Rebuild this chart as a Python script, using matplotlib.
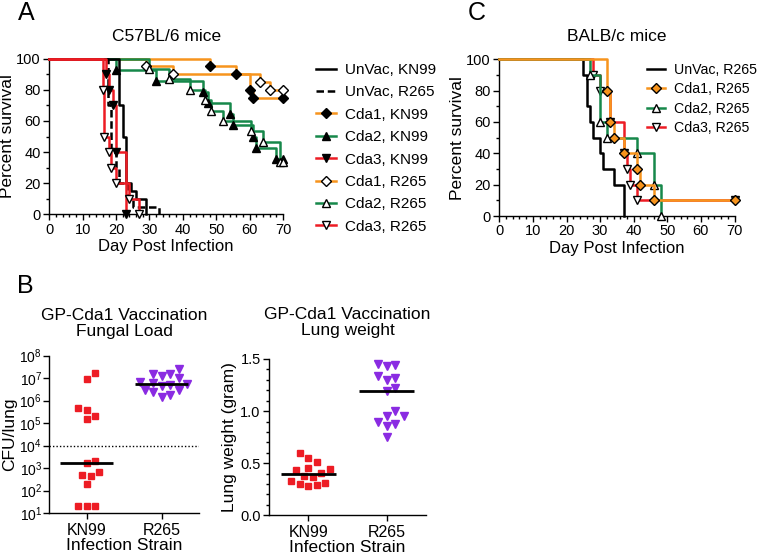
import numpy as np
import matplotlib
matplotlib.use('Agg')
import matplotlib.pyplot as plt
from matplotlib.lines import Line2D
from matplotlib.ticker import MultipleLocator, LogLocator, NullLocator, LogFormatterSciNotation

plt.rcParams['font.family'] = ['Liberation Sans', 'DejaVu Sans']
plt.rcParams['axes.linewidth'] = 1.0

ORANGE = '#F7941D'
GREEN = '#16884A'
RED = '#ED1C24'
PURPLE = '#8A2BE2'

study_end = 70

# panel A, C57BL/6 mice: day of each death, % surviving after it
a_unvac_kn99_day = [21, 22, 23, 24.5, 26, 29]
a_unvac_kn99_surv = [70, 50, 20, 15, 10, 0]
a_unvac_r265_day = [17.5, 18.5, 20, 21, 23.5, 25, 33]
a_unvac_r265_surv = [70, 40, 30, 20, 10, 5, 0]
a_cda1_kn99_day = [48, 56, 60, 61]
a_cda1_kn99_surv = [95, 90, 80, 75]
a_cda2_kn99_day = [20, 32, 46, 47.5, 54, 55, 61, 62, 68]
a_cda2_kn99_surv = [92.9, 85.7, 78.6, 71.4, 64.3, 57.1, 50, 42.9, 35.7]
a_cda3_kn99_day = [17, 18, 19, 20, 23]
a_cda3_kn99_surv = [90, 80, 70, 40, 0]
a_cda1_r265_day = [29, 37, 63, 66]
a_cda1_r265_surv = [95, 90, 85, 80]
a_cda2_r265_day = [30, 36, 42, 46.5, 48.5, 52, 60.5, 64, 69]
a_cda2_r265_surv = [93.3, 86.7, 80, 73.3, 66.7, 60, 53.3, 46.7, 33.3]
a_cda3_r265_day = [16, 16.5, 18, 18.5, 20, 24, 27]
a_cda3_r265_surv = [80, 50, 40, 30, 20, 10, 0]

# panel C, BALB/c mice
c_unvac_day = [25, 26, 27, 28, 30, 31, 34, 37]
c_unvac_surv = [90, 70, 60, 50, 40, 30, 20, 0]
c_cda1_day = [32, 33, 34, 37, 41, 42, 46]
c_cda1_surv = [80, 60, 50, 40, 30, 20, 10]
c_cda2_day = [27, 30, 32, 41, 46, 48]
c_cda2_surv = [90, 60, 50, 40, 20, 0]
c_cda3_day = [28, 30, 33, 37, 38, 39, 41]
c_cda3_surv = [90, 80, 60, 40, 30, 20, 10]

# panel B
strains = ['KN99', 'R265']
kn99_cfu = [1.7e7, 9.5e6, 4e5, 4.5e5, 2e5, 1.5e5, 2e3, 1.6e3, 7e2, 5e2, 4.5e2, 2e2, 20, 20, 20]
r265_cfu = [2.5e7, 1.5e7, 1.3e7, 1.6e7, 1.0e7, 6e6, 5e6, 5.5e6, 4.5e6, 7e6, 3e6, 2.5e6, 3e6, 1.8e6, 1.5e6]
cfu_limit = 1e4
kn99_weight = [0.595, 0.515, 0.547, 0.44, 0.41, 0.377, 0.43, 0.45, 0.365, 0.333, 0.297, 0.285, 0.29, 0.313]
r265_weight = [1.43, 1.45, 1.44, 1.30, 1.32, 1.34, 1.19, 1.22, 0.95, 1.0, 0.9, 0.95, 0.86, 0.88, 0.75]

fig = plt.figure(figsize=(7.6, 5.58), dpi=100)
W, H = 760, 558


def box(l, t, r, b):
    return [l / W, 1 - b / H, (r - l) / W, (b - t) / H]


def km(ax, days, surv, color, ls='-', marker=None, mfc='k', ms=6, z=2):
    x = [0] + list(days)
    y = [100] + list(surv)
    if y[-1] > 0:
        x.append(study_end)
        y.append(y[-1])
    ax.step(x, y, where='post', color=color, lw=1.8, ls=ls, zorder=z, clip_on=False)
    if marker:
        ax.plot(x[1:], y[1:], ls='none', marker=marker, mfc=mfc, mec='k', ms=ms,
                mew=1.0, zorder=z + 0.5, clip_on=False)


def style(ax):
    for s in ['top', 'right']:
        ax.spines[s].set_visible(False)
    ax.tick_params(which='major', length=4, width=1, labelsize=10.5, pad=2)
    ax.tick_params(which='minor', length=2, width=1)


def style_surv(ax, title):
    ax.set_xlim(0, 70)
    ax.set_ylim(0, 100)
    ax.xaxis.set_major_locator(MultipleLocator(10))
    ax.xaxis.set_minor_locator(MultipleLocator(2))
    ax.yaxis.set_major_locator(MultipleLocator(20))
    ax.yaxis.set_minor_locator(MultipleLocator(10))
    style(ax)
    ax.set_title(title, fontsize=12.5, pad=13)
    ax.set_xlabel('Day Post Infection', fontsize=12, labelpad=2)
    ax.set_ylabel('Percent survival', fontsize=12.5, labelpad=1)


# ---- A
axA = fig.add_axes(box(49.3, 58.7, 283, 214.3))
km(axA, a_cda1_kn99_day, a_cda1_kn99_surv, ORANGE, marker='D', mfc='k', ms=5.5)
km(axA, a_cda1_r265_day, a_cda1_r265_surv, ORANGE, marker='D', mfc='white', ms=5.5)
km(axA, a_cda2_kn99_day, a_cda2_kn99_surv, GREEN, marker='^', mfc='k')
km(axA, a_cda2_r265_day, a_cda2_r265_surv, GREEN, marker='^', mfc='white')
km(axA, a_unvac_kn99_day, a_unvac_kn99_surv, 'k', z=3)
km(axA, a_unvac_r265_day, a_unvac_r265_surv, 'k', ls=(0, (3, 1.5)), z=3)
km(axA, a_cda3_kn99_day, a_cda3_kn99_surv, RED, marker='v', mfc='k', z=4)
km(axA, a_cda3_r265_day, a_cda3_r265_surv, RED, marker='v', mfc='white', z=4)
style_surv(axA, 'C57BL/6 mice')

hA = [Line2D([], [], color='k', lw=1.8),
      Line2D([], [], color='k', lw=1.8, ls=(0, (3, 1.5))),
      Line2D([], [], color=ORANGE, lw=1.8, marker='D', mfc='k', mec='k', ms=5),
      Line2D([], [], color=GREEN, lw=1.8, marker='^', mfc='k', mec='k', ms=5.5),
      Line2D([], [], color=RED, lw=1.8, marker='v', mfc='k', mec='k', ms=5.5),
      Line2D([], [], color=ORANGE, lw=1.8, marker='D', mfc='white', mec='k', ms=5),
      Line2D([], [], color=GREEN, lw=1.8, marker='^', mfc='white', mec='k', ms=5.5),
      Line2D([], [], color=RED, lw=1.8, marker='v', mfc='white', mec='k', ms=5.5)]
lA = ['UnVac, KN99', 'UnVac, R265', 'Cda1, KN99', 'Cda2, KN99', 'Cda3, KN99',
      'Cda1, R265', 'Cda2, R265', 'Cda3, R265']
fig.legend(hA, lA, loc='upper left', bbox_to_anchor=(316 / W, 1 - 63 / H), frameon=False,
           fontsize=11, handlelength=1.3, handletextpad=0.6, labelspacing=0.55,
           borderpad=0, borderaxespad=0)

# ---- C
axC = fig.add_axes(box(499.3, 59.3, 734.5, 216))
km(axC, c_unvac_day, c_unvac_surv, 'k', z=2)
km(axC, c_cda3_day, c_cda3_surv, RED, marker='v', mfc='white', z=3)
km(axC, c_cda2_day, c_cda2_surv, GREEN, marker='^', mfc='white', z=4)
km(axC, c_cda1_day, c_cda1_surv, ORANGE, marker='D', mfc=ORANGE, ms=5.5, z=5)
style_surv(axC, 'BALB/c mice')

hC = [Line2D([], [], color='k', lw=1.8),
      Line2D([], [], color=ORANGE, lw=1.8, marker='D', mfc=ORANGE, mec='k', ms=5.5),
      Line2D([], [], color=GREEN, lw=1.8, marker='^', mfc='white', mec='k', ms=6),
      Line2D([], [], color=RED, lw=1.8, marker='v', mfc='white', mec='k', ms=6)]
lC = ['UnVac, R265', 'Cda1, R265', 'Cda2, R265', 'Cda3, R265']
fig.legend(hC, lC, loc='upper left', bbox_to_anchor=(647 / W, 1 - 63 / H), frameon=False,
           fontsize=10.2, handlelength=1.3, handletextpad=0.6, labelspacing=0.38,
           borderpad=0, borderaxespad=0)


# ---- B
def swarm(ax, vals, center, gap=8.5):
    # spread points sideways so the markers do not overlap
    pts = ax.transData.transform(np.column_stack([np.full(len(vals), center), vals]))
    ypx = pts[:, 1]
    xunit = ax.transData.transform((center + 1, vals[0]))[0] - pts[0, 0]
    cands = [0.0] + [s * j * gap / 2 for j in range(1, 30) for s in (1, -1)]
    placed = []
    offs = np.zeros(len(vals))
    for i in np.argsort(ypx):
        for c in cands:
            if all((c - px) ** 2 + (ypx[i] - py) ** 2 >= gap ** 2 for px, py in placed):
                break
        placed.append((c, ypx[i]))
        offs[i] = c / xunit
    return center + offs


def style_dot(ax, title, ylabel, pad):
    ax.set_xlim(-0.5, 1.5)
    ax.set_xticks([0, 1])
    ax.set_xticklabels(strains)
    style(ax)
    ax.tick_params(axis='x', labelsize=11.5, pad=3)
    ax.set_title(title, fontsize=12.5, pad=pad, linespacing=1.1)
    ax.set_xlabel('Infection Strain', fontsize=12.5, labelpad=0)
    ax.set_ylabel(ylabel, fontsize=12.5, labelpad=2)


axB1 = fig.add_axes(box(49, 355.7, 199, 513))
axB1.set_yscale('log')
axB1.set_ylim(10, 1e8)
axB1.yaxis.set_major_locator(LogLocator(base=10, numticks=10))
axB1.yaxis.set_major_formatter(LogFormatterSciNotation())
axB1.yaxis.set_minor_locator(NullLocator())
style_dot(axB1, 'GP-Cda1 Vaccination\nFungal Load', 'CFU/lung', 14)
axB1.tick_params(axis='y', labelsize=10, pad=1)
axB1.axhline(cfu_limit, color='k', lw=1, ls=(0, (1, 1.5)))
axB1.plot(swarm(axB1, kn99_cfu, 0), kn99_cfu, ls='none', marker='s', color=RED, ms=5,
          clip_on=False, zorder=3)
axB1.plot(swarm(axB1, r265_cfu, 1), r265_cfu, ls='none', marker='v', color=PURPLE, ms=6,
          clip_on=False, zorder=3)
for i, v in enumerate([kn99_cfu, r265_cfu]):
    axB1.hlines(np.median(v), i - 0.35, i + 0.35, color='k', lw=2, zorder=4)

axB2 = fig.add_axes(box(269, 359, 426, 515.3))
axB2.set_ylim(0, 1.5)
axB2.yaxis.set_major_locator(MultipleLocator(0.5))
axB2.yaxis.set_minor_locator(MultipleLocator(0.1))
axB2.yaxis.set_major_formatter(matplotlib.ticker.FormatStrFormatter('%.1f'))
style_dot(axB2, 'GP-Cda1 Vaccination\nLung weight', 'Lung weight (gram)', 17)
axB2.plot(swarm(axB2, kn99_weight, 0), kn99_weight, ls='none', marker='s', color=RED, ms=5,
          zorder=3)
axB2.plot(swarm(axB2, r265_weight, 1), r265_weight, ls='none', marker='v', color=PURPLE, ms=6,
          zorder=3)
for i, v in enumerate([kn99_weight, r265_weight]):
    axB2.hlines(np.median(v), i - 0.35, i + 0.35, color='k', lw=2, zorder=4)

# panel letters
for s, x, y in [('A', 26, 13), ('C', 477, 13), ('B', 25, 286)]:
    fig.text(x / W, 1 - y / H, s, fontsize=18, ha='center', va='center')

fig.savefig('out.png', dpi=100)
